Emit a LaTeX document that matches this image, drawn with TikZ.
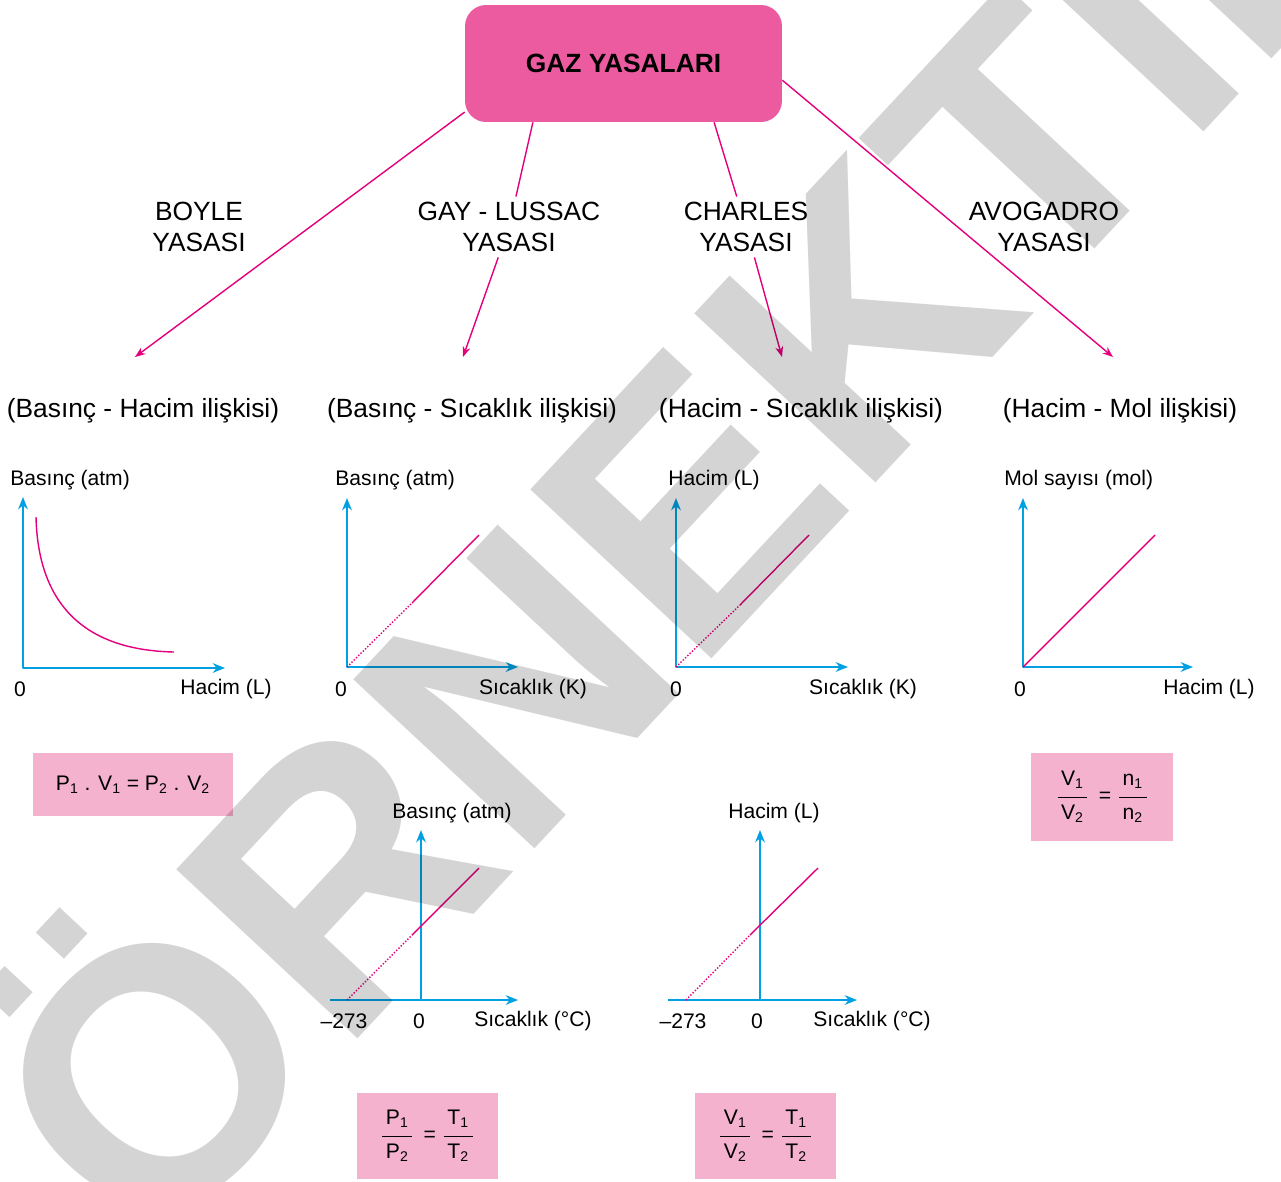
\documentclass[tikz,border=0pt]{standalone}
\usepackage{fontspec}
\setmainfont{Liberation Sans}
\usetikzlibrary{arrows.meta}
\definecolor{anapembe}{RGB}{236,90,160}
\definecolor{cizgi}{RGB}{228,0,124}
\definecolor{mavi}{RGB}{0,160,227}
\definecolor{kutu}{RGB}{244,178,206}
\newcommand\kesir[2]{$\displaystyle{\mbox{\,\raisebox{1.5pt}{#1}\,}\above.7pt\mbox{\,\raisebox{-1.5pt}{#2}\,}}$}
\tikzset{
  yasa/.style={align=center, font=\fontsize{15}{17.6}\selectfont, inner sep=3pt},
  baslik/.style={font=\fontsize{15}{18}\selectfont, inner sep=0pt},
  etiket/.style={font=\fontsize{12}{14}\selectfont, inner sep=0pt},
  pembe/.style={cizgi, line width=.8pt},
  ok/.style={pembe, -{Stealth[length=6pt,width=4.5pt]}},
  eksen/.style={mavi, line width=1.1pt},
  formul/.style={fill=kutu, font=\fontsize{12}{14}\selectfont, inner sep=0pt},
}
\begin{document}
\begin{tikzpicture}[x=.02cm, y=-.02cm, line join=round, >={Stealth[length=7pt,width=5.5pt]}]
\useasboundingbox (0,0) rectangle (1281,1181);
%Ana kutu ve yasalar
\node[fill=anapembe, rounded corners=12pt, minimum width=6.34cm, minimum height=2.34cm, font=\fontsize{15}{18}\selectfont\bfseries] (gaz) at (623.5,63.5) {GAZ YASALARI};
\node[yasa] (boyle) at (199,227) {BOYLE\\YASASI};
\node[yasa] (gay) at (509,227) {GAY - LUSSAC\\YASASI};
\node[yasa] (charles) at (746,227) {CHARLES\\YASASI};
\node[yasa] (avogadro) at (1044,227) {AVOGADRO\\YASASI};
\coordinate (u1) at (135,357);
\coordinate (u2) at (463,357);
\coordinate (u3) at (782,357);
\coordinate (u4) at (1113,357);
\draw[ok] (gaz.197) -- (u1);
\draw[pembe] (gaz.213) -- (gay);
\draw[ok] (gay) -- (u2);
\draw[pembe] (gaz.-33.5) -- (charles);
\draw[ok] (charles) -- (u3);
\draw[ok] (gaz.-6) -- (u4);
%Ilişkiler
\node[baslik] (h1) at (143,411) {(Basınç - Hacim ilişkisi)};
\node[baslik] (h2) at (472,411) {(Basınç - Sıcaklık ilişkisi)};
\node[baslik] (h3) at (801,411) {(Hacim - Sıcaklık ilişkisi)};
\node[baslik] (h4) at (1120,411) {(Hacim - Mol ilişkisi)};
%Boyle grafiği
\draw[eksen, <->] (23,497) |- (225,668);
\draw[pembe] (36,517) .. controls (38,600) and (80,650) .. (174,652);
\node[etiket, anchor=west] (b1y) at (10,480) {Basınç (atm)};
\node[etiket] (b1o) at (20,689) {0};
\node[etiket] (b1x) at (226,689) {Hacim (L)};
%Gay-Lussac grafiği (K)
\draw[eksen, <->] (347,498) |- (518,667);
\draw[pembe, densely dotted] (347,667) -- (412,603);
\draw[pembe] (412,603) -- (479,535);
\node[etiket, anchor=west] (g1y) at (335,480) {Basınç (atm)};
\node[etiket] (g1o) at (341,689) {0};
\node[etiket] (g1x) at (533,689) {Sıcaklık (K)};
%Charles grafiği (K)
\draw[eksen, <->] (676,498) |- (848,667);
\draw[pembe, densely dotted] (676,667) -- (740,605);
\draw[pembe] (740,605) -- (809,535);
\node[etiket, anchor=west] (c1y) at (668,480) {Hacim (L)};
\node[etiket] (c1o) at (676,689) {0};
\node[etiket] (c1x) at (863,689) {Sıcaklık (K)};
%Avogadro grafiği
\draw[eksen, <->] (1023,498) |- (1193,667);
\draw[pembe] (1023,667) -- (1155,535);
\node[etiket, anchor=west] (a1y) at (1004,480) {Mol sayısı (mol)};
\node[etiket] (a1o) at (1020,689) {0};
\node[etiket] (a1x) at (1209,689) {Hacim (L)};
%Gay-Lussac grafiği (°C)
\draw[eksen, ->] (421,1000) -- (421,830);
\draw[eksen, ->] (330,1000) -- (518,1000);
\draw[pembe, densely dotted] (347,1000) -- (412,935);
\draw[pembe] (412,935) -- (479,868);
\node[etiket] (g2y) at (452,813) {Basınç (atm)};
\node[etiket] (g2m) at (344,1021) {–273};
\node[etiket] (g2o) at (419,1021) {0};
\node[etiket] (g2x) at (533,1021) {Sıcaklık (°C)};
%Charles grafiği (°C)
\draw[eksen, ->] (760,1000) -- (760,830);
\draw[eksen, ->] (668,1000) -- (857,1000);
\draw[pembe, densely dotted] (686,1000) -- (750,935);
\draw[pembe] (750,935) -- (818,868);
\node[etiket] (c2y) at (774,813) {Hacim (L)};
\node[etiket] (c2m) at (683,1021) {–273};
\node[etiket] (c2o) at (757,1021) {0};
\node[etiket] (c2x) at (872,1021) {Sıcaklık (°C)};
%Formüller
\node[formul, minimum width=4cm, minimum height=1.26cm] (f1) at (133,784.5) {P\textsubscript{1} . V\textsubscript{1} = P\textsubscript{2} . V\textsubscript{2}};
\node[formul, minimum width=2.84cm, minimum height=1.76cm] (f2) at (1102,797) {\kesir{V\textsubscript{1}}{V\textsubscript{2}}\, = \kesir{n\textsubscript{1}}{n\textsubscript{2}}};
\node[formul, minimum width=2.82cm, minimum height=1.72cm] (f3) at (427.5,1136) {\kesir{P\textsubscript{1}}{P\textsubscript{2}}\, = \kesir{T\textsubscript{1}}{T\textsubscript{2}}};
\node[formul, minimum width=2.82cm, minimum height=1.72cm] (f4) at (765.5,1136) {\kesir{V\textsubscript{1}}{V\textsubscript{2}}\, = \kesir{T\textsubscript{1}}{T\textsubscript{2}}};
%Filigran
\node[rotate=47, text=black, opacity=.17, font=\fontsize{205}{205}\selectfont\bfseries] (filigran) at (680,470) {ÖRNEKTİR};
\end{tikzpicture}
\end{document}
